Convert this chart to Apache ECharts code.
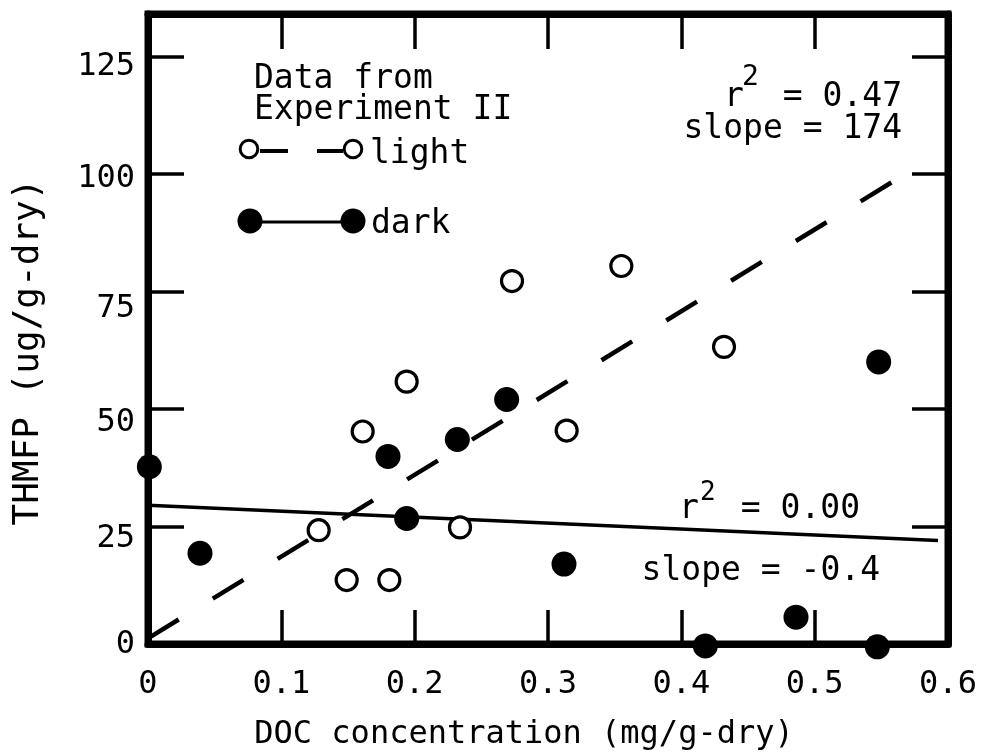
<!DOCTYPE html>
<html>
<head>
<meta charset="utf-8">
<script src="https://cdn.jsdelivr.net/npm/echarts@6/dist/echarts.min.js"></script>
<style>
  html, body { margin: 0; padding: 0; background: #fff; }
  #chart { width: 982px; height: 756px; }
</style>
</head>
<body>
<div id="chart"></div>
<script>
// Axis ticks
const xTicks = [0, 0.1, 0.2, 0.3, 0.4, 0.5, 0.6];
const yTicks = [0, 25, 50, 75, 100, 125];

// Experiment II, light incubation: DOC (mg/g-dry) vs THMFP (ug/g-dry)
const lightDoc = [0.128, 0.149, 0.181, 0.234, 0.161, 0.194, 0.273, 0.355, 0.314, 0.432];
const lightThm = [24.2, 13.6, 13.6, 24.8, 45.2, 55.8, 77.2, 80.4, 45.4, 63.2];

// Experiment II, dark incubation
const darkDoc = [0.001, 0.039, 0.180, 0.232, 0.269, 0.194, 0.312, 0.548, 0.418, 0.486, 0.547];
const darkThm = [37.7, 19.3, 39.9, 43.5, 52.0, 26.7, 17.0, 60.0, -0.4, 5.7, -0.6];

// Regression line end points
const lightFitDoc = [0, 0.579];
const lightFitThm = [1.2, 101.9];
const darkFitDoc = [0, 0.5925];
const darkFitThm = [29.5, 22.0];

const FONT = '"DejaVu Sans Mono", "Liberation Mono", monospace';
const INK = '#000';

const zip = (xs, ys) => xs.map((x, i) => [x, ys[i]]);

// small vertical nudges of the y tick labels (px, positive = down)
const yLabelShift = { 0: 1, 25: 12, 50: 14, 75: 17, 100: 5, 125: 10 };
const yRich = {};
yTicks.forEach(v => {
  const d = yLabelShift[v] || 0;
  yRich['t' + v] = {
    fontSize: 32, fontFamily: FONT, color: INK,
    padding: d >= 0 ? [2 * d, 0, 0, 0] : [0, 0, -2 * d, 0]
  };
});

const chart = echarts.init(document.getElementById('chart'), null, { renderer: 'canvas' });

const txt = (text, x, y, size, align) => ({
  type: 'text', x: x, y: y, z: 10,
  style: {
    text: text, fill: INK, fontSize: size, fontFamily: FONT,
    align: align || 'left', verticalAlign: 'middle'
  }
});

const option = {
  animation: false,
  backgroundColor: '#fff',
  grid: {
    left: 148, right: 34, top: 14, bottom: 110,
    show: true, borderColor: INK, borderWidth: 7
  },
  xAxis: [
    {
      type: 'value', position: 'bottom', min: 0, max: 0.6, interval: 0.1,
      axisLine: { show: true, onZero: false, lineStyle: { color: INK, width: 7 } },
      axisTick: { show: true, inside: true, length: 34, customValues: xTicks,
                  lineStyle: { color: INK, width: 3.5 } },
      axisLabel: {
        margin: 25, fontSize: 32, fontFamily: FONT, color: INK, customValues: xTicks,
        formatter: v => (Math.abs(v) < 1e-9 ? '0' : v.toFixed(1))
      },
      splitLine: { show: false },
      name: 'DOC concentration (mg/g-dry)',
      nameLocation: 'middle', nameGap: 75,
      nameTextStyle: { fontSize: 32, fontFamily: FONT, color: INK, padding: [0, 48, 0, 0] }
    },
    {
      type: 'value', position: 'top', min: 0, max: 0.6, interval: 0.1,
      axisLine: { show: true, onZero: false, lineStyle: { color: INK, width: 7 } },
      axisTick: { show: true, inside: true, length: 35, customValues: xTicks,
                  lineStyle: { color: INK, width: 3.5 } },
      axisLabel: { show: false },
      splitLine: { show: false }
    }
  ],
  yAxis: [
    {
      type: 'value', position: 'left', min: 0, max: 134, interval: 25,
      axisLine: { show: true, onZero: false, lineStyle: { color: INK, width: 7 } },
      axisTick: { show: true, inside: true, length: 36, customValues: yTicks,
                  lineStyle: { color: INK, width: 3.5 } },
      axisLabel: {
        margin: 13, customValues: yTicks, rich: yRich,
        formatter: v => '{t' + Math.round(v) + '|' + Math.round(v) + '}'
      },
      splitLine: { show: false },
      name: 'THMFP (ug/g-dry)',
      nameLocation: 'middle', nameGap: 101,
      nameTextStyle: { fontSize: 36, fontFamily: FONT, color: INK, padding: [0, 46, 0, 0] }
    },
    {
      type: 'value', position: 'right', min: 0, max: 134, interval: 25,
      axisLine: { show: true, onZero: false, lineStyle: { color: INK, width: 7 } },
      axisTick: { show: true, inside: true, length: 36, customValues: yTicks,
                  lineStyle: { color: INK, width: 3.5 } },
      axisLabel: { show: false },
      splitLine: { show: false }
    }
  ],
  series: [
    {
      name: 'light fit', type: 'line', xAxisIndex: 0, yAxisIndex: 0,
      data: zip(lightFitDoc, lightFitThm), showSymbol: false, symbol: 'none', clip: false,
      lineStyle: { color: INK, width: 4.5, type: [36, 40], cap: 'butt' },
      silent: true, z: 3
    },
    {
      name: 'dark fit', type: 'line', xAxisIndex: 0, yAxisIndex: 0,
      data: zip(darkFitDoc, darkFitThm), showSymbol: false, symbol: 'none', clip: false,
      lineStyle: { color: INK, width: 3.5 },
      silent: true, z: 3
    },
    {
      name: 'light', type: 'scatter', xAxisIndex: 0, yAxisIndex: 0,
      data: zip(lightDoc, lightThm), symbol: 'circle', symbolSize: 21, clip: false,
      itemStyle: { color: '#fff', borderColor: INK, borderWidth: 3.2, opacity: 1 },
      z: 5
    },
    {
      name: 'dark', type: 'scatter', xAxisIndex: 0, yAxisIndex: 0,
      data: zip(darkDoc, darkThm), symbol: 'circle', symbolSize: 25, clip: false,
      itemStyle: { color: INK, opacity: 1 },
      z: 6
    }
  ],
  graphic: [
    // key
    txt('Data from', 254, 79, 33),
    txt('Experiment II', 254, 110, 33),
    { type: 'line', z: 10, shape: { x1: 260, y1: 151, x2: 288, y2: 151 },
      style: { stroke: INK, lineWidth: 4 } },
    { type: 'line', z: 10, shape: { x1: 317, y1: 151, x2: 343, y2: 151 },
      style: { stroke: INK, lineWidth: 4 } },
    { type: 'circle', z: 11, shape: { cx: 249, cy: 149, r: 8.8 },
      style: { fill: '#fff', stroke: INK, lineWidth: 3 } },
    { type: 'circle', z: 11, shape: { cx: 353, cy: 149, r: 8.8 },
      style: { fill: '#fff', stroke: INK, lineWidth: 3 } },
    txt('light', 370, 154, 33),
    { type: 'line', z: 10, shape: { x1: 250, y1: 222, x2: 353, y2: 222 },
      style: { stroke: INK, lineWidth: 3 } },
    { type: 'circle', z: 11, shape: { cx: 250, cy: 221, r: 12.5 }, style: { fill: INK } },
    { type: 'circle', z: 11, shape: { cx: 353, cy: 221, r: 12.5 }, style: { fill: INK } },
    txt('dark', 371, 224, 33),

    // light regression statistics
    txt('r', 724, 97, 33),
    txt('2', 742, 78, 28),
    txt('= 0.47', 902, 97, 33, 'right'),
    txt('slope = 174', 902, 129, 33, 'right'),

    // dark regression statistics
    txt('r', 679, 509, 33),
    txt('2', 700, 493, 26),
    txt('= 0.00', 860, 509, 33, 'right'),
    txt('slope = -0.4', 880, 571, 33, 'right')
  ]
};

chart.setOption(option);
</script>
</body>
</html>
